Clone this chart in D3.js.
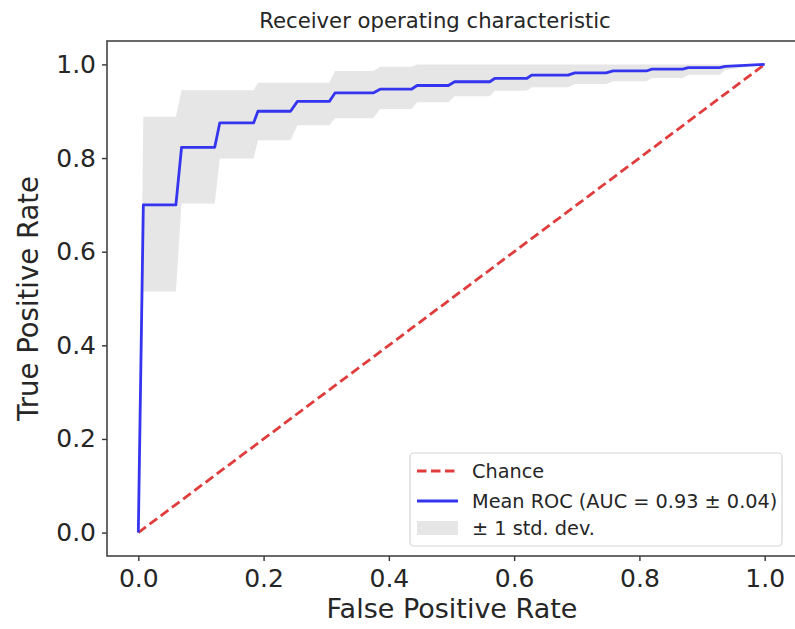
<!DOCTYPE html>
<html>
<head>
<meta charset="utf-8">
<script src="https://cdn.jsdelivr.net/npm/d3@7"></script>
<style>
  html, body { margin: 0; padding: 0; background: #fff; }
  svg { display: block; font-family: "DejaVu Sans", sans-serif; }
</style>
</head>
<body>
<svg id="chart" width="795" height="629"></svg>
<script>
// ---- data ----
const fpr = [0, 0.008, 0.060, 0.069, 0.122, 0.130, 0.184, 0.191, 0.243, 0.254, 0.305, 0.314, 0.375, 0.386, 0.436, 0.445, 0.495, 0.505, 0.561, 0.569, 0.620, 0.628, 0.686, 0.697, 0.747, 0.758, 0.811, 0.820, 0.869, 0.878, 0.928, 0.937, 1.0];
const meanTpr = [0, 0.700, 0.700, 0.823, 0.823, 0.875, 0.875, 0.900, 0.900, 0.921, 0.921, 0.939, 0.939, 0.947, 0.947, 0.955, 0.955, 0.963, 0.963, 0.970, 0.970, 0.977, 0.977, 0.982, 0.982, 0.986, 0.986, 0.990, 0.990, 0.993, 0.993, 0.996, 1.0];
const upperTpr = [0, 0.888, 0.888, 0.945, 0.945, 0.945, 0.945, 0.961, 0.961, 0.961, 0.961, 0.986, 0.986, 0.995, 0.995, 1.0, 1.0, 1.0, 1.0, 1.0, 1.0, 1.0, 1.0, 1.0, 1.0, 1.0, 1.0, 1.0, 1.0, 1.0, 1.0, 1.0, 1.0];
const lowerTpr = [0, 0.515, 0.515, 0.703, 0.703, 0.799, 0.799, 0.838, 0.838, 0.870, 0.870, 0.885, 0.885, 0.905, 0.905, 0.919, 0.919, 0.932, 0.932, 0.944, 0.944, 0.951, 0.951, 0.958, 0.958, 0.964, 0.964, 0.971, 0.971, 0.978, 0.978, 0.988, 1.0];
const chanceX = [0, 1];
const chanceY = [0, 1];
const tickValues = [0, 0.2, 0.4, 0.6, 0.8, 1.0];
const tickLabels = ["0.0", "0.2", "0.4", "0.6", "0.8", "1.0"];
const legendLabels = ["Chance", "Mean ROC (AUC = 0.93 \u00b1 0.04)", "\u00b1 1 std. dev."];
const titleText = "Receiver operating characteristic";
const xLabelText = "False Positive Rate";
const yLabelText = "True Positive Rate";

// ---- layout ----
const svg = d3.select("#chart");
const pLeft = 107, pRight = 796, pTop = 41, pBottom = 556;
const x = d3.scaleLinear().domain([-0.05, 1.05]).range([pLeft, pRight]);
const y = d3.scaleLinear().domain([-0.05, 1.05]).range([pBottom, pTop]);
const textColor = "#262626";

// band
const band = fpr.map((f, i) => ({ f, lo: lowerTpr[i], hi: upperTpr[i] }));
svg.append("path")
  .datum(band)
  .attr("d", d3.area().x(d => x(d.f)).y0(d => y(d.lo)).y1(d => y(d.hi)))
  .attr("fill", "#e6e6e6");

// chance line
svg.append("path")
  .datum(chanceX.map((v, i) => [v, chanceY[i]]))
  .attr("d", d3.line().x(d => x(d[0])).y(d => y(d[1])))
  .attr("fill", "none")
  .attr("stroke", "#e03c3c")
  .attr("stroke-width", 2.8)
  .attr("stroke-dasharray", "9.5,4.5");

// mean ROC
svg.append("path")
  .datum(fpr.map((f, i) => [f, meanTpr[i]]))
  .attr("d", d3.line().x(d => x(d[0])).y(d => y(d[1])))
  .attr("fill", "none")
  .attr("stroke", "#3535f0")
  .attr("stroke-width", 2.8)
  .attr("stroke-linejoin", "round");

// axes
const xAxis = d3.axisBottom(x).tickValues(tickValues).tickFormat((d, i) => tickLabels[i]).tickSize(5).tickPadding(8);
const yAxis = d3.axisLeft(y).tickValues(tickValues).tickFormat((d, i) => tickLabels[i]).tickSize(5).tickPadding(6);
const gx = svg.append("g").attr("transform", `translate(0,${pBottom})`).call(xAxis);
const gy = svg.append("g").attr("transform", `translate(${pLeft},0)`).call(yAxis);
[gx, gy].forEach(g => {
  g.select(".domain").remove();
  g.selectAll(".tick line").attr("stroke", "#333").attr("stroke-width", 1.4);
  g.selectAll(".tick text").attr("fill", textColor).style("font-size", "25px").style("font-family", "DejaVu Sans");
});

// frame
svg.append("rect")
  .attr("x", pLeft).attr("y", pTop)
  .attr("width", pRight - pLeft).attr("height", pBottom - pTop)
  .attr("fill", "none").attr("stroke", "#444").attr("stroke-width", 1.6);

// title & labels
svg.append("text").attr("x", 435).attr("y", 28).attr("text-anchor", "middle")
  .attr("fill", textColor).style("font-size", "21.2px").text(titleText);
svg.append("text").attr("x", 452).attr("y", 618).attr("text-anchor", "middle")
  .attr("fill", textColor).style("font-size", "27px").text(xLabelText);
svg.append("text").attr("transform", `translate(38,${(pTop + pBottom) / 2}) rotate(-90)`).attr("text-anchor", "middle")
  .attr("fill", textColor).style("font-size", "27.5px").text(yLabelText);

// legend
const lg = svg.append("g");
lg.append("rect").attr("x", 410).attr("y", 453).attr("width", 372).attr("height", 93)
  .attr("rx", 4).attr("fill", "#fff").attr("fill-opacity", 0.85)
  .attr("stroke", "#d6d6d6").attr("stroke-width", 1.2);
const rowY = [471, 501, 528];
lg.append("line").attr("x1", 417).attr("x2", 458).attr("y1", rowY[0]).attr("y2", rowY[0])
  .attr("stroke", "#e03c3c").attr("stroke-width", 2.8).attr("stroke-dasharray", "9.5,4.5");
lg.append("line").attr("x1", 417).attr("x2", 458).attr("y1", rowY[1]).attr("y2", rowY[1])
  .attr("stroke", "#3535f0").attr("stroke-width", 2.8);
lg.append("rect").attr("x", 417).attr("y", rowY[2] - 7).attr("width", 41).attr("height", 14)
  .attr("fill", "#e6e6e6");
legendLabels.forEach((t, i) => {
  lg.append("text").attr("x", 472).attr("y", rowY[i]).attr("dy", "0.35em")
    .attr("fill", textColor).style("font-size", "19.3px").text(t);
});
</script>
</body>
</html>
